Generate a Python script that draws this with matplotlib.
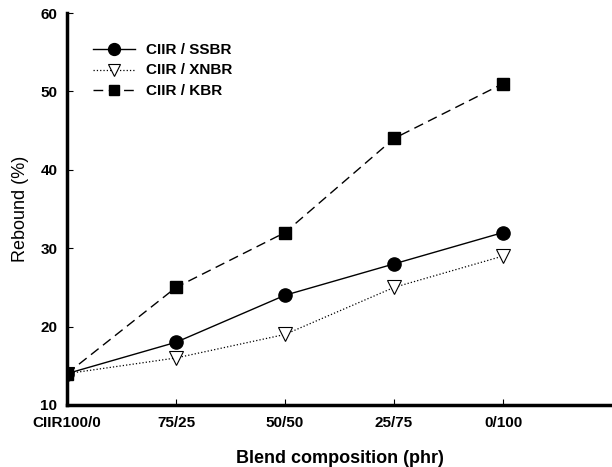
import matplotlib
matplotlib.use("Agg")
import matplotlib.pyplot as plt

plt.rcParams['font.family'] = ['Liberation Sans', 'DejaVu Sans']

# Blend ratios and rebound values (%)
compositions = ['CIIR100/0', '75/25', '50/50', '25/75', '0/100']
ssbr = [14, 18, 24, 28, 32]
xnbr = [14, 16, 19, 25, 29]
kbr = [14, 25, 32, 44, 51]

x = list(range(len(compositions)))

fig = plt.figure(figsize=(6.12, 4.67), dpi=100)
ax = fig.add_axes([0.1095, 0.1328, 0.8905, 0.8392])

ax.plot(x, ssbr, color='black', linestyle='-', linewidth=1.0,
        marker='o', markersize=9.5, markerfacecolor='black', label='CIIR / SSBR')
ax.plot(x, xnbr, color='black', linestyle=':', linewidth=0.9,
        marker='v', markersize=9.5, markerfacecolor='white', markeredgewidth=0.8,
        label='CIIR / XNBR')
ax.plot(x, kbr, color='black', linestyle=(0, (7, 4)), linewidth=1.0,
        marker='s', markersize=8.5, markerfacecolor='black', label='CIIR / KBR')

ax.set_xlim(0, 5)
ax.set_ylim(10, 60)
ax.set_xticks(x)
ax.set_xticklabels(compositions)
ax.set_yticks([10, 20, 30, 40, 50, 60])

for side in ['top', 'right']:
    ax.spines[side].set_visible(False)
for side in ['left', 'bottom']:
    ax.spines[side].set_linewidth(2.5)

ax.tick_params(direction='in', length=4, width=0.8, labelsize=11)
ax.tick_params(axis='x', pad=8)
ax.tick_params(axis='y', pad=7)
for lbl in ax.get_xticklabels() + ax.get_yticklabels():
    lbl.set_fontweight('bold')

ax.set_xlabel('Blend composition (phr)', fontsize=13, fontweight='bold', labelpad=14)
ax.set_ylabel('Rebound (%)', fontsize=13, labelpad=8)

leg = ax.legend(loc='upper left', bbox_to_anchor=(0.025, 0.955), frameon=False,
                handlelength=3, handletextpad=0.8, labelspacing=0.45,
                markerscale=0.9)
for t in leg.get_texts():
    t.set_fontweight('bold')
    t.set_fontsize(11)

fig.savefig('out.png', dpi=100)
